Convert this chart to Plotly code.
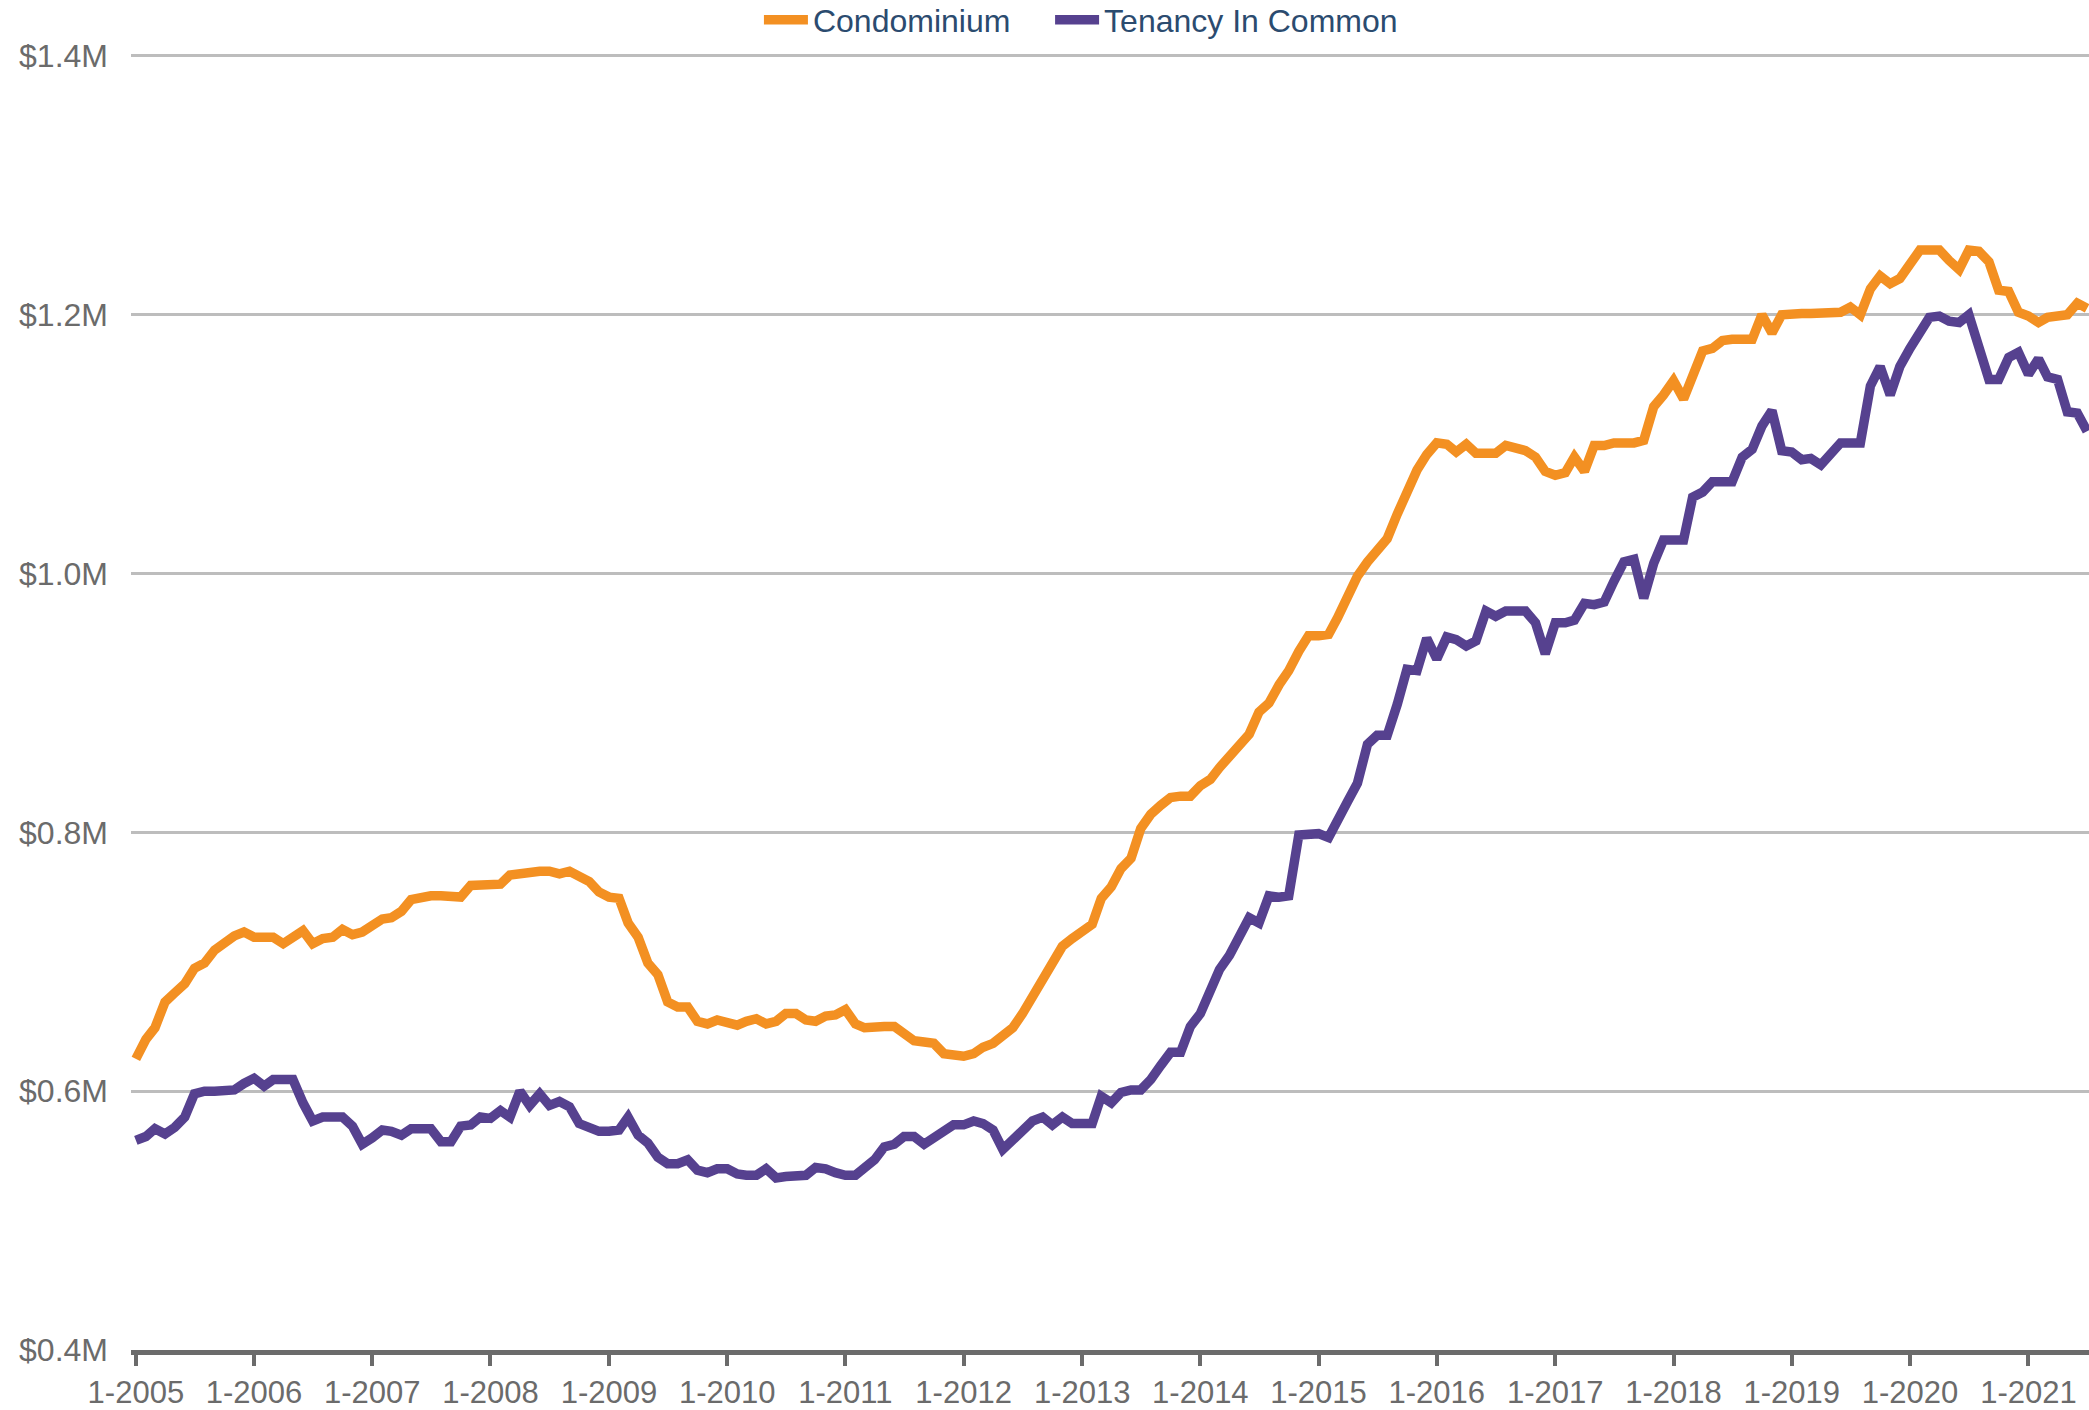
import pandas as pd
import plotly.graph_objects as go

# Monthly median prices ($M), Jan 2005 - Jul 2021
condominium = [
    0.625, 0.640, 0.649, 0.669, 0.676, 0.683, 0.695, 0.699, 0.709, 0.715, 0.720, 0.723,
    0.719, 0.719, 0.719, 0.714, 0.719, 0.724, 0.714, 0.718, 0.719, 0.725, 0.721, 0.723,
    0.728, 0.733, 0.734, 0.739, 0.748, 0.750, 0.751, 0.751, 0.751, 0.750, 0.759, 0.759,
    0.759, 0.760, 0.767, 0.768, 0.770, 0.770, 0.770, 0.768, 0.770, 0.767, 0.762, 0.754,
    0.750, 0.749, 0.730, 0.719, 0.699, 0.690, 0.669, 0.665, 0.665, 0.654, 0.652, 0.655,
    0.653, 0.651, 0.654, 0.656, 0.652, 0.654, 0.660, 0.660, 0.655, 0.654, 0.658, 0.659,
    0.663, 0.652, 0.649, 0.650, 0.650, 0.650, 0.645, 0.639, 0.638, 0.637, 0.629, 0.628,
    0.627, 0.629, 0.634, 0.637, 0.644, 0.649, 0.660, 0.673, 0.686, 0.699, 0.712, 0.718,
    0.723, 0.729, 0.749, 0.758, 0.772, 0.780, 0.803, 0.814, 0.821, 0.827, 0.828, 0.828,
    0.836, 0.841, 0.850, 0.858, 0.866, 0.876, 0.893, 0.900, 0.914, 0.925, 0.940, 0.952,
    0.952, 0.953, 0.966, 0.984, 0.998, 1.009, 1.018, 1.027, 1.046, 1.064, 1.080, 1.092,
    1.101, 1.100, 1.094, 1.100, 1.093, 1.093, 1.093, 1.099, 1.096, 1.095, 1.090, 1.079,
    1.076, 1.078, 1.090, 1.079, 1.099, 1.099, 1.101, 1.101, 1.101, 1.103, 1.129, 1.138,
    1.149, 1.135, 1.153, 1.172, 1.174, 1.180, 1.181, 1.181, 1.181, 1.200, 1.186, 1.200,
    1.201, 1.201, 1.201, 1.201, 1.201, 1.202, 1.206, 1.200, 1.220, 1.230, 1.224, 1.228,
    1.239, 1.250, 1.250, 1.250, 1.242, 1.235, 1.250, 1.249, 1.241, 1.219, 1.218, 1.202,
    1.199, 1.194, 1.198, 1.199, 1.200, 1.209, 1.205,
]

tenancy_in_common = [
    0.562, 0.565, 0.571, 0.567, 0.572, 0.580, 0.598, 0.600, 0.600, 0.600, 0.601, 0.606,
    0.610, 0.604, 0.609, 0.609, 0.609, 0.591, 0.577, 0.580, 0.580, 0.580, 0.573, 0.559,
    0.564, 0.570, 0.569, 0.566, 0.571, 0.571, 0.571, 0.561, 0.561, 0.573, 0.574, 0.580,
    0.579, 0.585, 0.580, 0.600, 0.589, 0.598, 0.589, 0.592, 0.588, 0.575, 0.572, 0.569,
    0.569, 0.570, 0.580, 0.566, 0.560, 0.549, 0.544, 0.544, 0.547, 0.539, 0.537, 0.540,
    0.540, 0.536, 0.535, 0.535, 0.540, 0.533, 0.534, 0.535, 0.535, 0.541, 0.540, 0.537,
    0.535, 0.535, 0.540, 0.547, 0.557, 0.559, 0.565, 0.565, 0.559, 0.564, 0.569, 0.574,
    0.574, 0.577, 0.575, 0.570, 0.555, 0.562, 0.570, 0.577, 0.580, 0.574, 0.580, 0.575,
    0.575, 0.575, 0.596, 0.591, 0.599, 0.601, 0.601, 0.609, 0.620, 0.630, 0.630, 0.650,
    0.660, 0.680, 0.694, 0.705, 0.721, 0.734, 0.730, 0.751, 0.750, 0.751, 0.798, 0.799,
    0.799, 0.796, 0.808, 0.824, 0.838, 0.868, 0.875, 0.875, 0.899, 0.926, 0.925, 0.950,
    0.934, 0.951, 0.949, 0.944, 0.948, 0.971, 0.967, 0.971, 0.971, 0.971, 0.962, 0.938,
    0.962, 0.962, 0.964, 0.977, 0.976, 0.978, 0.994, 1.009, 1.011, 0.981, 1.008, 1.026,
    1.026, 1.026, 1.059, 1.063, 1.071, 1.071, 1.071, 1.090, 1.096, 1.114, 1.126, 1.095,
    1.094, 1.088, 1.089, 1.084, 1.093, 1.101, 1.101, 1.101, 1.145, 1.160, 1.138, 1.160,
    1.174, 1.188, 1.198, 1.199, 1.195, 1.194, 1.200, 1.175, 1.150, 1.150, 1.167, 1.171,
    1.154, 1.166, 1.152, 1.150, 1.125, 1.124, 1.110,
]

x_tick_dates = [f"{y}-01-01" for y in range(2005, 2022)]
x_tick_labels = [f"1-{y}" for y in range(2005, 2022)]
y_tick_values = [0.4, 0.6, 0.8, 1.0, 1.2, 1.4]
y_tick_labels = ["$0.4M", "$0.6M", "$0.8M", "$1.0M", "$1.2M", "$1.4M"]

months = pd.date_range("2005-01-01", periods=len(condominium), freq="MS")

FONT = "Liberation Sans, Arial, Helvetica, sans-serif"
GRAY = "#6b6b6b"
LEGEND_TEXT = "#2b4b6f"

fig = go.Figure()
fig.add_trace(go.Scatter(
    x=months, y=condominium, mode="lines", name="Condominium",
    line=dict(color="#f39022", width=9.5), legend="legend",
))
fig.add_trace(go.Scatter(
    x=months, y=tenancy_in_common, mode="lines", name="Tenancy In Common",
    line=dict(color="#56418f", width=9.5), legend="legend2",
))

legend_common = dict(
    orientation="h", yanchor="middle", y=1.0255, xanchor="left",
    font=dict(family=FONT, size=32, color=LEGEND_TEXT),
    bgcolor="rgba(0,0,0,0)", itemwidth=44,
)

fig.update_layout(
    width=2089, height=1410, autosize=False,
    margin=dict(l=131, r=0, t=53, b=60, pad=0, autoexpand=False),
    paper_bgcolor="white", plot_bgcolor="white",
    font=dict(family=FONT, size=32, color=GRAY),
    showlegend=True,
    legend=dict(legend_common, x=0.3207),
    legend2=dict(legend_common, x=0.4694),
    xaxis=dict(
        type="date",
        range=["2004-12-17", "2021-07-07"],
        tickmode="array", tickvals=x_tick_dates, ticktext=x_tick_labels,
        showgrid=False, zeroline=False,
        showline=True, linecolor=GRAY, linewidth=5,
        ticks="outside", ticklen=11, tickwidth=4, tickcolor=GRAY,
        tickfont=dict(family=FONT, size=31, color=GRAY),
    ),
    yaxis=dict(
        range=[0.4, 1.4023],
        tickmode="array", tickvals=y_tick_values, ticktext=y_tick_labels,
        showgrid=True, gridcolor="#bdbdbd", gridwidth=2.5,
        zeroline=False, showline=False, ticks="",
        ticklabelstandoff=22,
        tickfont=dict(family=FONT, size=32, color=GRAY),
    ),
)

fig.write_html(
    "out.html",
    config={"displayModeBar": False},
    post_script="document.body.style.margin='0';document.body.style.overflow='hidden';",
)
